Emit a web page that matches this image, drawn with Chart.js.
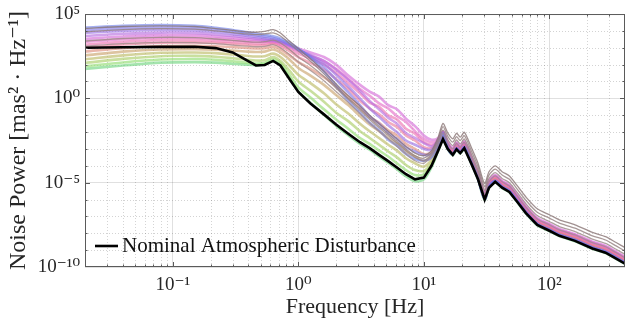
<!DOCTYPE html>
<html>
<head>
<meta charset="utf-8">
<script src="https://cdn.jsdelivr.net/npm/chart.js@4.4.1/dist/chart.umd.min.js"></script>
<style>
  html, body { margin: 0; padding: 0; background: #fff; }
</style>
</head>
<body>
<canvas id="psd" width="626" height="331"></canvas>
<script>
// frequency grid [Hz]
const freq = [0.02, 0.04, 0.08, 0.15, 0.22, 0.3, 0.38, 0.46, 0.54, 0.63, 0.72, 0.85, 1.0, 1.25, 1.6,
  2.0, 2.5, 3.1, 3.7, 4.4, 5.2, 6.1, 7.2, 8.5, 10, 11.5, 13, 14.2, 15.5, 17, 18.2, 19.5, 21, 24, 27,
  30.5, 33, 37, 42, 48, 55, 65, 80, 100, 120, 160, 220, 280, 340, 400];

// all series below are log10 of the noise power [mas^2/Hz]
const nominal = [3.00, 3.03, 3.05, 3.06, 2.98, 2.72, 2.30, 1.95, 1.98, 2.22, 1.95, 1.15, 0.38, -0.30, -0.95,
  -1.55, -2.10, -2.60, -2.95, -3.35, -3.72, -4.10, -4.50, -4.80, -4.70, -4.00, -3.10, -2.42,
  -3.00, -3.35, -3.02, -3.25, -2.96, -3.90, -4.80, -6.00, -5.30, -4.95, -5.30, -5.55,
  -6.10, -6.80, -7.50, -7.85, -8.15, -8.45, -8.90, -9.15, -9.50, -9.80];

// family of disturbance cases, top (blue) to bottom (green) at low frequency
const fam0 = [4.20, 4.30, 4.35, 4.30, 4.18, 4.05, 3.93, 3.85, 3.77, 3.68, 3.55, 3.30, 2.95, 2.40, 1.60,
  0.75, -0.15, -0.85, -1.45, -1.90, -2.45, -2.80, -3.30, -3.60, -3.70, -3.50, -2.80, -2.15,
  -2.97, -3.32, -2.99, -3.22, -2.93, -3.87, -4.77, -5.97, -5.27, -4.92, -5.27, -5.52,
  -6.07, -6.77, -7.47, -7.82, -8.12, -8.42, -8.87, -9.12, -9.47, -9.77];
const fam1 = [4.05, 4.15, 4.20, 4.16, 4.05, 3.93, 3.82, 3.74, 3.66, 3.58, 3.45, 3.22, 2.90, 2.45, 1.85,
  1.10, 0.35, -0.40, -1.05, -1.50, -2.05, -2.40, -2.90, -3.15, -3.35, -3.30, -2.75, -2.10,
  -2.95, -3.30, -2.97, -3.20, -2.91, -3.85, -4.75, -5.95, -5.25, -4.90, -5.25, -5.50,
  -6.05, -6.75, -7.45, -7.80, -8.10, -8.40, -8.85, -9.10, -9.45, -9.75];
const fam2 = [3.88, 3.99, 4.05, 4.02, 3.92, 3.82, 3.72, 3.64, 3.57, 3.50, 3.38, 3.17, 2.88, 2.52, 2.05,
  1.40, 0.70, 0.00, -0.60, -1.10, -1.60, -2.00, -2.50, -2.75, -3.00, -3.05, -2.60, -2.05,
  -2.94, -3.29, -2.96, -3.19, -2.90, -3.84, -4.74, -5.94, -5.24, -4.89, -5.24, -5.49,
  -6.04, -6.74, -7.44, -7.79, -8.09, -8.39, -8.84, -9.09, -9.44, -9.74];
const fam3 = [3.70, 3.83, 3.90, 3.88, 3.79, 3.70, 3.61, 3.54, 3.48, 3.43, 3.32, 3.12, 2.85, 2.58, 2.22,
  1.70, 1.10, 0.45, -0.15, -0.65, -1.15, -1.50, -2.05, -2.35, -2.65, -2.85, -2.50, -2.00,
  -2.92, -3.27, -2.94, -3.17, -2.88, -3.82, -4.72, -5.92, -5.22, -4.87, -5.22, -5.47,
  -6.02, -6.72, -7.42, -7.77, -8.07, -8.37, -8.82, -9.07, -9.42, -9.72];
const fam4 = [3.52, 3.67, 3.75, 3.74, 3.67, 3.59, 3.52, 3.47, 3.43, 3.40, 3.32, 3.15, 2.95, 2.72, 2.45,
  2.00, 1.35, 0.80, 0.40, 0.10, -0.40, -0.65, -1.20, -1.65, -2.20, -2.45, -2.35, -1.95,
  -2.60, -2.95, -2.62, -2.85, -2.56, -3.50, -4.40, -5.60, -4.90, -4.55, -4.90, -5.15,
  -5.70, -6.40, -7.10, -7.45, -7.75, -8.05, -8.50, -8.75, -9.10, -9.40];
const fam5 = [3.35, 3.51, 3.60, 3.60, 3.54, 3.47, 3.41, 3.37, 3.35, 3.36, 3.26, 3.05, 2.80, 2.52, 2.20,
  1.75, 1.15, 0.55, 0.15, -0.30, -0.60, -1.05, -1.40, -1.95, -2.40, -2.60, -2.45, -2.00,
  -2.65, -3.00, -2.67, -2.90, -2.61, -3.55, -4.45, -5.65, -4.95, -4.60, -4.95, -5.20,
  -5.75, -6.45, -7.15, -7.50, -7.80, -8.10, -8.55, -8.80, -9.15, -9.45];
const fam6 = [3.18, 3.35, 3.45, 3.46, 3.41, 3.35, 3.30, 3.27, 3.26, 3.30, 3.18, 2.95, 2.65, 2.35, 2.00,
  1.50, 0.90, 0.30, -0.25, -0.50, -1.00, -1.25, -1.80, -2.10, -2.60, -2.75, -2.55, -2.05,
  -2.70, -3.05, -2.72, -2.95, -2.66, -3.60, -4.50, -5.70, -5.00, -4.65, -5.00, -5.25,
  -5.80, -6.50, -7.20, -7.55, -7.85, -8.15, -8.60, -8.85, -9.20, -9.50];
const fam7 = [3.00, 3.19, 3.30, 3.32, 3.28, 3.23, 3.18, 3.15, 3.15, 3.22, 3.08, 2.80, 2.45, 2.10, 1.70,
  1.15, 0.55, -0.15, -0.60, -0.95, -1.40, -1.70, -2.20, -2.50, -2.90, -2.95, -2.65, -2.10,
  -2.75, -3.10, -2.77, -3.00, -2.71, -3.65, -4.55, -5.75, -5.05, -4.70, -5.05, -5.30,
  -5.85, -6.55, -7.25, -7.60, -7.90, -8.20, -8.65, -8.90, -9.25, -9.55];
const fam8 = [2.78, 2.98, 3.10, 3.12, 3.09, 3.04, 2.99, 2.96, 2.97, 3.06, 2.90, 2.55, 2.15, 1.75, 1.25,
  0.70, 0.10, -0.55, -1.10, -1.45, -1.90, -2.20, -2.70, -3.00, -3.30, -3.20, -2.75, -2.15,
  -2.80, -3.15, -2.82, -3.05, -2.76, -3.70, -4.60, -5.80, -5.10, -4.75, -5.10, -5.35,
  -5.90, -6.60, -7.30, -7.65, -7.95, -8.25, -8.70, -8.95, -9.30, -9.60];
const fam9 = [2.55, 2.77, 2.90, 2.92, 2.89, 2.83, 2.78, 2.75, 2.77, 2.90, 2.72, 2.30, 1.80, 1.35, 0.80,
  0.20, -0.40, -1.05, -1.55, -1.95, -2.35, -2.70, -3.15, -3.45, -3.70, -3.45, -2.85, -2.20,
  -2.85, -3.20, -2.87, -3.10, -2.81, -3.75, -4.65, -5.85, -5.15, -4.80, -5.15, -5.40,
  -5.95, -6.65, -7.35, -7.70, -8.00, -8.30, -8.75, -9.00, -9.35, -9.65];
const fam10 = [2.32, 2.55, 2.70, 2.72, 2.68, 2.60, 2.53, 2.48, 2.50, 2.65, 2.45, 1.95, 1.40, 0.90, 0.30,
  -0.35, -0.90, -1.50, -1.95, -2.35, -2.75, -3.10, -3.55, -3.85, -4.05, -3.65, -2.95, -2.25,
  -2.88, -3.23, -2.90, -3.13, -2.84, -3.78, -4.68, -5.88, -5.18, -4.83, -5.18, -5.43,
  -5.98, -6.68, -7.38, -7.73, -8.03, -8.33, -8.78, -9.03, -9.38, -9.68];
const fam11 = [2.10, 2.34, 2.50, 2.52, 2.47, 2.38, 2.30, 2.24, 2.26, 2.45, 2.22, 1.65, 1.00, 0.45, -0.20,
  -0.85, -1.35, -1.95, -2.35, -2.75, -3.15, -3.50, -3.95, -4.25, -4.30, -3.85, -3.02, -2.32,
  -2.90, -3.25, -2.92, -3.15, -2.86, -3.80, -4.70, -5.90, -5.20, -4.85, -5.20, -5.45,
  -6.00, -6.70, -7.40, -7.75, -8.05, -8.35, -8.80, -9.05, -9.40, -9.70];
const fam12 = [1.90, 2.13, 2.30, 2.33, 2.29, 2.20, 2.12, 2.07, 2.10, 2.32, 2.08, 1.38, 0.65, 0.05, -0.65,
  -1.25, -1.80, -2.35, -2.70, -3.10, -3.45, -3.85, -4.25, -4.55, -4.50, -3.95, -3.05, -2.38,
  -2.94, -3.29, -2.96, -3.19, -2.90, -3.84, -4.74, -5.94, -5.24, -4.89, -5.24, -5.49,
  -6.04, -6.74, -7.44, -7.79, -8.09, -8.39, -8.84, -9.09, -9.44, -9.74];
const fam13 = [1.75, 1.95, 2.12, 2.15, 2.12, 2.05, 2.00, 1.97, 2.02, 2.20, 1.95, 1.20, 0.42, -0.28, -0.98,
  -1.62, -2.18, -2.70, -3.05, -3.45, -3.82, -4.20, -4.62, -4.92, -4.80, -4.08, -3.12, -2.45,
  -3.02, -3.37, -3.04, -3.27, -2.98, -3.92, -4.82, -6.02, -5.32, -4.97, -5.32, -5.57,
  -6.12, -6.82, -7.52, -7.87, -8.17, -8.47, -8.92, -9.17, -9.52, -9.82];
const famColors = ['#6d7ee8', '#7f74e6', '#986ee4', '#b46ade', '#d468d6', '#e46ac6', '#ec6fae',
  '#ec7896', '#dc8a78', '#c8a068', '#b9b860', '#a8cc62', '#8edc6c', '#6cd47a'];
// drawing priority (lower = on top)
const famOrder = [2, 2, 2, 2, 2, 2, 2, 2, 3, 3, 3, 3, 3, 3];

// grey cases (highest at 0.6 Hz and above 10 Hz)
const gray0 = [4.15, 4.26, 4.30, 4.26, 4.14, 4.03, 3.95, 3.92, 3.97, 4.08, 3.88, 3.40, 2.95, 2.35, 1.60,
  0.85, 0.15, -0.45, -1.00, -1.50, -1.95, -2.40, -2.85, -3.25, -3.40, -3.10, -2.30, -1.48,
  -2.05, -2.40, -2.07, -2.30, -2.01, -2.95, -3.85, -5.05, -4.35, -4.00, -4.35, -4.60,
  -5.15, -5.85, -6.55, -6.90, -7.20, -7.50, -7.95, -8.20, -8.55, -8.85];
const gray1 = [3.95, 4.08, 4.13, 4.10, 4.00, 3.90, 3.82, 3.78, 3.82, 3.88, 3.70, 3.25, 2.80, 2.20, 1.45,
  0.70, 0.00, -0.60, -1.15, -1.65, -2.10, -2.55, -3.00, -3.40, -3.55, -3.20, -2.45, -1.68,
  -2.25, -2.60, -2.27, -2.50, -2.21, -3.15, -4.05, -5.25, -4.55, -4.20, -4.55, -4.80,
  -5.35, -6.05, -6.75, -7.10, -7.40, -7.70, -8.15, -8.40, -8.75, -9.05];
const gray2 = [3.40, 3.55, 3.62, 3.60, 3.52, 3.44, 3.37, 3.33, 3.36, 3.45, 3.28, 2.90, 2.45, 1.95, 1.30,
  0.60, -0.05, -0.70, -1.25, -1.75, -2.20, -2.65, -3.10, -3.50, -3.70, -3.30, -2.60, -1.88,
  -2.45, -2.80, -2.47, -2.70, -2.41, -3.35, -4.25, -5.45, -4.75, -4.40, -4.75, -5.00,
  -5.55, -6.25, -6.95, -7.30, -7.60, -7.90, -8.35, -8.60, -8.95, -9.25];
const gray3 = [3.10, 3.25, 3.32, 3.30, 3.24, 3.16, 3.10, 3.06, 3.08, 3.18, 3.00, 2.60, 2.15, 1.65, 1.05,
  0.40, -0.25, -0.90, -1.45, -1.95, -2.40, -2.85, -3.30, -3.70, -3.85, -3.40, -2.75, -2.08,
  -2.65, -3.00, -2.67, -2.90, -2.61, -3.55, -4.45, -5.65, -4.95, -4.60, -4.95, -5.20,
  -5.75, -6.45, -7.15, -7.50, -7.80, -8.10, -8.55, -8.80, -9.15, -9.45];
const grayColors = ['#8a7676', '#937f7f', '#9c8787', '#a38d8d'];

const xMajor = [0.1, 1, 10, 100];
const xLabels = ['10⁻¹', '10⁰', '10¹', '10²'];
const yMajor = [1e-10, 1e-5, 1, 1e5];
const yLabels = ['10⁻¹⁰', '10⁻⁵', '10⁰', '10⁵'];

const SERIF = '"Liberation Serif", "DejaVu Serif", serif';

function pts(arr) {
  return freq.map((f, i) => ({ x: f, y: Math.pow(10, arr[i]) }));
}

const family = [fam0, fam1, fam2, fam3, fam4, fam5, fam6, fam7, fam8, fam9, fam10, fam11, fam12, fam13];
const grays = [gray0, gray1, gray2, gray3];

const datasets = [{
  label: 'Nominal Atmospheric Disturbance',
  data: pts(nominal),
  borderColor: '#000',
  borderWidth: 2.6,
  pointRadius: 0,
  tension: 0,
  order: 0
}];
grays.forEach((g, i) => datasets.push({
  label: 'gray' + i, data: pts(g), borderColor: grayColors[i] + 'cc',
  borderWidth: 1.3, pointRadius: 0, tension: 0.25, order: 1
}));
family.forEach((c, i) => datasets.push({
  label: 'case' + i, data: pts(c), borderColor: famColors[i] + '9e',
  borderWidth: 2.6, pointRadius: 0, tension: 0.3, order: famOrder[i]
}));

// minor grid, box, inward ticks and the legend, MATLAB style
const boxPlugin = {
  id: 'box',
  beforeDatasetsDraw(chart) {
    const { ctx, chartArea: a, scales: { x, y } } = chart;
    ctx.save();
    ctx.strokeStyle = 'rgba(0,0,0,0.22)';
    ctx.lineWidth = 0.8;
    ctx.setLineDash([1, 2]);
    ctx.beginPath();
    for (let d = -2; d <= 2; d++) {
      for (let m = 2; m <= 9; m++) {
        const v = m * Math.pow(10, d);
        if (v <= x.min || v >= x.max) continue;
        const px = Math.round(x.getPixelForValue(v)) + 0.5;
        ctx.moveTo(px, a.top); ctx.lineTo(px, a.bottom);
      }
    }
    for (let e = -9; e <= 4; e++) {
      if (e % 5 === 0) continue;
      const py = Math.round(y.getPixelForValue(Math.pow(10, e))) + 0.5;
      ctx.moveTo(a.left, py); ctx.lineTo(a.right, py);
    }
    ctx.stroke();
    ctx.restore();
  },
  afterDraw(chart) {
    const { ctx, chartArea: a, scales: { x, y } } = chart;
    ctx.save();
    ctx.strokeStyle = '#5a5a5a';
    ctx.lineWidth = 1;
    ctx.strokeRect(a.left + 0.5, a.top + 0.5, a.right - a.left - 1, a.bottom - a.top - 1);
    ctx.beginPath();
    for (let d = -2; d <= 2; d++) {
      for (let m = 1; m <= 9; m++) {
        const v = m * Math.pow(10, d);
        if (v <= x.min || v >= x.max) continue;
        const len = m === 1 ? 5 : 2.5;
        const px = Math.round(x.getPixelForValue(v)) + 0.5;
        ctx.moveTo(px, a.bottom); ctx.lineTo(px, a.bottom - len);
        ctx.moveTo(px, a.top); ctx.lineTo(px, a.top + len);
      }
    }
    for (let e = -9; e <= 4; e++) {
      const len = e % 5 === 0 ? 5 : 2.5;
      const py = Math.round(y.getPixelForValue(Math.pow(10, e))) + 0.5;
      ctx.moveTo(a.left, py); ctx.lineTo(a.left + len, py);
      ctx.moveTo(a.right, py); ctx.lineTo(a.right - len, py);
    }
    ctx.stroke();

    // legend, lower left inside the axes
    const ly = a.bottom - 21;
    ctx.strokeStyle = '#000';
    ctx.lineWidth = 2.6;
    ctx.beginPath();
    ctx.moveTo(a.left + 10, ly); ctx.lineTo(a.left + 33, ly);
    ctx.stroke();
    ctx.fillStyle = '#111';
    ctx.font = '21px ' + SERIF;
    ctx.textBaseline = 'middle';
    ctx.fillText(chart.data.datasets[0].label, a.left + 37, ly);
    ctx.restore();
  }
};

new Chart(document.getElementById('psd'), {
  type: 'line',
  data: { datasets: datasets },
  options: {
    responsive: false,
    animation: false,
    devicePixelRatio: 1,
    layout: { padding: { top: 10, right: 1, left: 0, bottom: 0 } },
    plugins: { legend: { display: false }, tooltip: { enabled: false } },
    scales: {
      x: {
        type: 'logarithmic',
        min: 0.02, max: 400,
        afterBuildTicks: s => { s.ticks = xMajor.map(v => ({ value: v })); },
        afterFit: s => { s.height = 64; },
        ticks: {
          autoSkip: false, maxRotation: 0, padding: 7,
          color: '#262626', font: { family: SERIF, size: 19 },
          callback: (v, i) => xLabels[i]
        },
        grid: { color: 'rgba(0,0,0,0.12)', drawTicks: false },
        border: { display: false },
        title: {
          display: true, text: 'Frequency [Hz]', color: '#262626',
          font: { family: SERIF, size: 22 }, padding: { bottom: 11 }
        }
      },
      y: {
        type: 'logarithmic',
        min: 1e-10, max: 1e5,
        afterBuildTicks: s => { s.ticks = yMajor.map(v => ({ value: v })); },
        afterFit: s => { s.width = 85; },
        ticks: {
          autoSkip: false, padding: 5,
          color: '#262626', font: { family: SERIF, size: 19, lineHeight: 0.95 },
          callback: (v, i) => yLabels[i]
        },
        grid: { color: 'rgba(0,0,0,0.12)', drawTicks: false },
        border: { display: false },
        title: {
          display: true, text: 'Noise Power [mas² · Hz⁻¹]', color: '#262626',
          font: { family: SERIF, size: 24 }, padding: { top: 4 }
        }
      }
    }
  },
  plugins: [boxPlugin]
});
</script>
</body>
</html>
